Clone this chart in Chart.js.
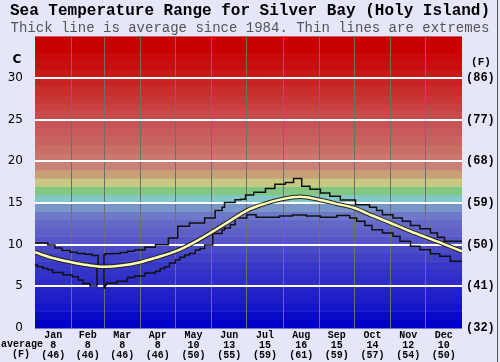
<!DOCTYPE html>
<html>
<head>
<meta charset="utf-8">
<script src="https://cdn.jsdelivr.net/npm/chart.js@4.4.1/dist/chart.umd.min.js"></script>
<style>
  body { margin: 0; background: #e6e6fa; }
  canvas { display: block; }
</style>
</head>
<body>
<canvas id="seaChart" width="500" height="362"></canvas>
<script>
// month labels along the bottom
const monthNames = ['Jan', 'Feb', 'Mar', 'Apr', 'May', 'Jun', 'Jul', 'Aug', 'Sep', 'Oct', 'Nov', 'Dec'];
const monthStartDays = [0, 31, 59, 90, 120, 151, 181, 212, 243, 273, 304, 334, 365];
const monthAvgC = [8, 8, 8, 8, 10, 13, 15, 16, 15, 14, 12, 10];
const monthAvgF = [46, 46, 46, 46, 50, 55, 59, 61, 59, 57, 54, 50];

// tick labels
const yTicksC = [0, 5, 10, 15, 20, 25, 30];
const yTicksF = ['(32)', '(41)', '(50)', '(59)', '(68)', '(77)', '(86)'];

// average since 1984 (day of year, deg C)
const avgDays = [0, 15, 31, 45, 59, 74, 90, 105, 120, 135, 151, 166, 181, 196, 212, 227, 243, 258, 273, 288, 304, 319, 334, 349, 365];
const avgTemps = [9.1, 8.4, 7.9, 7.55, 7.35, 7.5, 7.9, 8.5, 9.2, 10.2, 11.5, 12.8, 14.1, 14.9, 15.5, 15.75, 15.4, 14.9, 14.4, 13.5, 12.6, 11.7, 10.9, 10.1, 9.2];

// highest on record (steps start on these days)
const maxDays = [0, 11, 17, 23, 30, 36, 43, 49, 54, 59, 60, 66, 73, 79, 85, 94, 103, 114, 122, 132, 145, 154, 160, 162, 171, 176, 180, 187, 197, 205, 214, 221, 228, 235, 244, 252, 261, 274, 286, 292, 297, 306, 314, 321, 329, 338, 344, 350, 355, 365];
const maxTemps = [10.3, 10.2, 9.95, 9.6, 9.3, 9.1, 8.95, 8.85, 8.7, 7.4, 8.8, 8.9, 8.95, 9.05, 9.2, 9.35, 9.7, 10.0, 10.8, 12.2, 12.6, 13.2, 14.1, 14.5, 15.05, 15.4, 15.45, 15.95, 16.3, 16.75, 17.25, 17.45, 17.95, 17.0, 16.65, 16.2, 15.8, 15.35, 14.8, 14.5, 14.1, 13.6, 13.2, 12.8, 12.3, 11.9, 11.4, 10.9, 10.4, 10.4];

// lowest on record
const minDays = [0, 2, 7, 11, 15, 24, 32, 37, 41, 47, 53, 59, 60, 61, 70, 79, 85, 94, 103, 107, 111, 115, 120, 124, 128, 132, 137, 141, 145, 152, 160, 162, 167, 171, 181, 189, 209, 220, 232, 244, 258, 269, 275, 282, 288, 297, 306, 312, 321, 329, 338, 346, 355, 361, 365];
const minTemps = [7.7, 7.55, 7.35, 7.15, 7.0, 6.65, 6.35, 6.15, 5.75, 5.35, 5.05, 7.3, 4.8, 5.15, 5.4, 5.6, 6.05, 6.25, 6.6, 6.8, 7.15, 7.35, 7.8, 8.15, 8.5, 8.75, 8.95, 9.35, 9.55, 9.95, 11.35, 11.75, 12.0, 12.4, 13.2, 13.6, 13.3, 13.45, 13.55, 13.45, 13.3, 13.5, 13.2, 12.8, 12.3, 11.8, 11.4, 11.0, 10.4, 9.8, 9.4, 8.9, 8.6, 8.0, 8.0];

// colour of each 1 degree band, from 0 upwards
const bandColors = [
  '#0000c8', '#0a0ac8', '#1414c8', '#1e1ec8', '#2323c8', '#2d2dc8', '#3232c8', '#3737c8',
  '#4141c8', '#4b4bc8', '#5555c8', '#5f5fc8', '#6469c8', '#6e78c8', '#7896c8', '#82c8c8',
  '#82c882', '#c8c882', '#c8a078', '#c88278', '#c8786e', '#c86e64', '#c8645f', '#c85a5a',
  '#c85555', '#c84b4b', '#c84141', '#c83737', '#c82d2d', '#c82323', '#c81919', '#c80f0f',
  '#c80a0a', '#c80000', '#c80000'
];

const pts = (xs, ys) => xs.map((d, i) => ({x: d, y: ys[i]}));
const monthCenters = monthNames.map((m, i) => (monthStartDays[i] + monthStartDays[i + 1]) / 2);
const mono = 'Liberation Mono';

const backdrop = {
  id: 'backdrop',
  beforeDraw(chart) {
    const {ctx, chartArea: a, scales: {y}} = chart;
    ctx.save();
    ctx.fillStyle = '#e6e6fa';
    ctx.fillRect(0, 0, chart.width, chart.height);
    bandColors.forEach((c, i) => {
      const top = y.getPixelForValue(i + 1);
      const bot = y.getPixelForValue(i);
      ctx.fillStyle = c;
      ctx.fillRect(a.left, top, a.right - a.left, bot - top + 0.5);
    });
    ctx.restore();
  },
  afterDraw(chart) {
    const {ctx} = chart;
    ctx.save();
    ctx.fillStyle = '#000';
    ctx.textAlign = 'center';
    ctx.textBaseline = 'middle';
    ctx.font = 'bold 12px "DejaVu Sans"';
    ctx.fillText('C', 17, 60);
    ctx.font = 'bold 11px ' + mono;
    ctx.fillText('(F)', 481, 62);
    ctx.font = 'bold 10px ' + mono;
    ctx.fillText('average', 22, 344);
    ctx.fillText('(F)', 21, 354);
    ctx.fillStyle = '#555';
    ctx.fillRect(497, 0, 1, chart.height);
    ctx.restore();
  }
};

new Chart(document.getElementById('seaChart'), {
  type: 'line',
  data: {
    datasets: [
      {
        data: pts(avgDays, avgTemps),
        order: 0,
        borderColor: '#ffffb4',
        borderWidth: 2.5,
        cubicInterpolationMode: 'monotone',
        pointRadius: 0
      },
      {
        data: pts(avgDays, avgTemps),
        order: 1,
        borderColor: '#222',
        borderWidth: 4.5,
        cubicInterpolationMode: 'monotone',
        pointRadius: 0
      },
      {
        data: pts(maxDays, maxTemps),
        order: 2,
        stepped: 'after',
        borderColor: '#111',
        borderWidth: 1.5,
        pointRadius: 0
      },
      {
        data: pts(minDays, minTemps),
        order: 2,
        stepped: 'after',
        borderColor: '#111',
        borderWidth: 1.5,
        pointRadius: 0
      }
    ]
  },
  options: {
    responsive: false,
    animation: false,
    devicePixelRatio: 1,
    layout: {padding: 0},
    plugins: {
      legend: {display: false},
      tooltip: {enabled: false},
      title: {
        display: true,
        text: 'Sea Temperature Range for Silver Bay (Holy Island)',
        color: '#000',
        font: {family: mono, size: 16, weight: 'bold', lineHeight: 1.1},
        padding: {top: 2, bottom: 0}
      },
      subtitle: {
        display: true,
        text: 'Thick line is average since 1984. Thin lines are extremes',
        color: '#555',
        font: {family: mono, size: 14, lineHeight: 1.2},
        padding: {top: 0, bottom: 0}
      }
    },
    scales: {
      x: {
        type: 'linear',
        min: 0,
        max: 365,
        afterBuildTicks: s => { s.ticks = monthCenters.map(v => ({value: v})); },
        afterFit: s => { s.height = 34; },
        grid: {display: false, drawTicks: false},
        border: {display: false},
        ticks: {
          autoSkip: false,
          maxRotation: 0,
          padding: 2,
          color: '#000',
          font: {family: mono, size: 10, weight: 'bold', lineHeight: 1.0},
          callback: (v, i) => [monthNames[i], String(monthAvgC[i]), '(' + monthAvgF[i] + ')']
        }
      },
      xg: {
        type: 'linear',
        position: 'bottom',
        min: 0,
        max: 365,
        afterBuildTicks: s => { s.ticks = monthStartDays.map(v => ({value: v})); },
        afterFit: s => { s.height = 0; },
        border: {display: false},
        ticks: {display: false},
        grid: {
          drawTicks: false,
          lineWidth: 1,
          color: c => (c.tick && (c.tick.value === 0 || c.tick.value === 365)) ? 'rgba(0,0,0,0)' : '#6e6e6e'
        }
      },
      y: {
        min: 0,
        max: 35,
        afterBuildTicks: s => { s.ticks = yTicksC.map(v => ({value: v})); },
        afterFit: s => { s.width = 35; },
        border: {display: false},
        grid: {
          drawTicks: false,
          lineWidth: 2,
          color: c => (c.tick && c.tick.value === 0) ? 'rgba(0,0,0,0)' : '#ffffff'
        },
        ticks: {
          padding: 12,
          color: '#000',
          font: {family: 'DejaVu Sans', size: 12},
          callback: v => String(v)
        }
      },
      y2: {
        position: 'right',
        min: 0,
        max: 35,
        afterBuildTicks: s => { s.ticks = yTicksC.map(v => ({value: v})); },
        afterFit: s => { s.width = 38; },
        border: {display: false},
        grid: {display: false, drawTicks: false},
        ticks: {
          padding: 4,
          color: '#000',
          font: {family: mono, size: 12, weight: 'bold'},
          callback: (v, i) => yTicksF[i]
        }
      }
    }
  },
  plugins: [backdrop]
});
</script>
</body>
</html>
